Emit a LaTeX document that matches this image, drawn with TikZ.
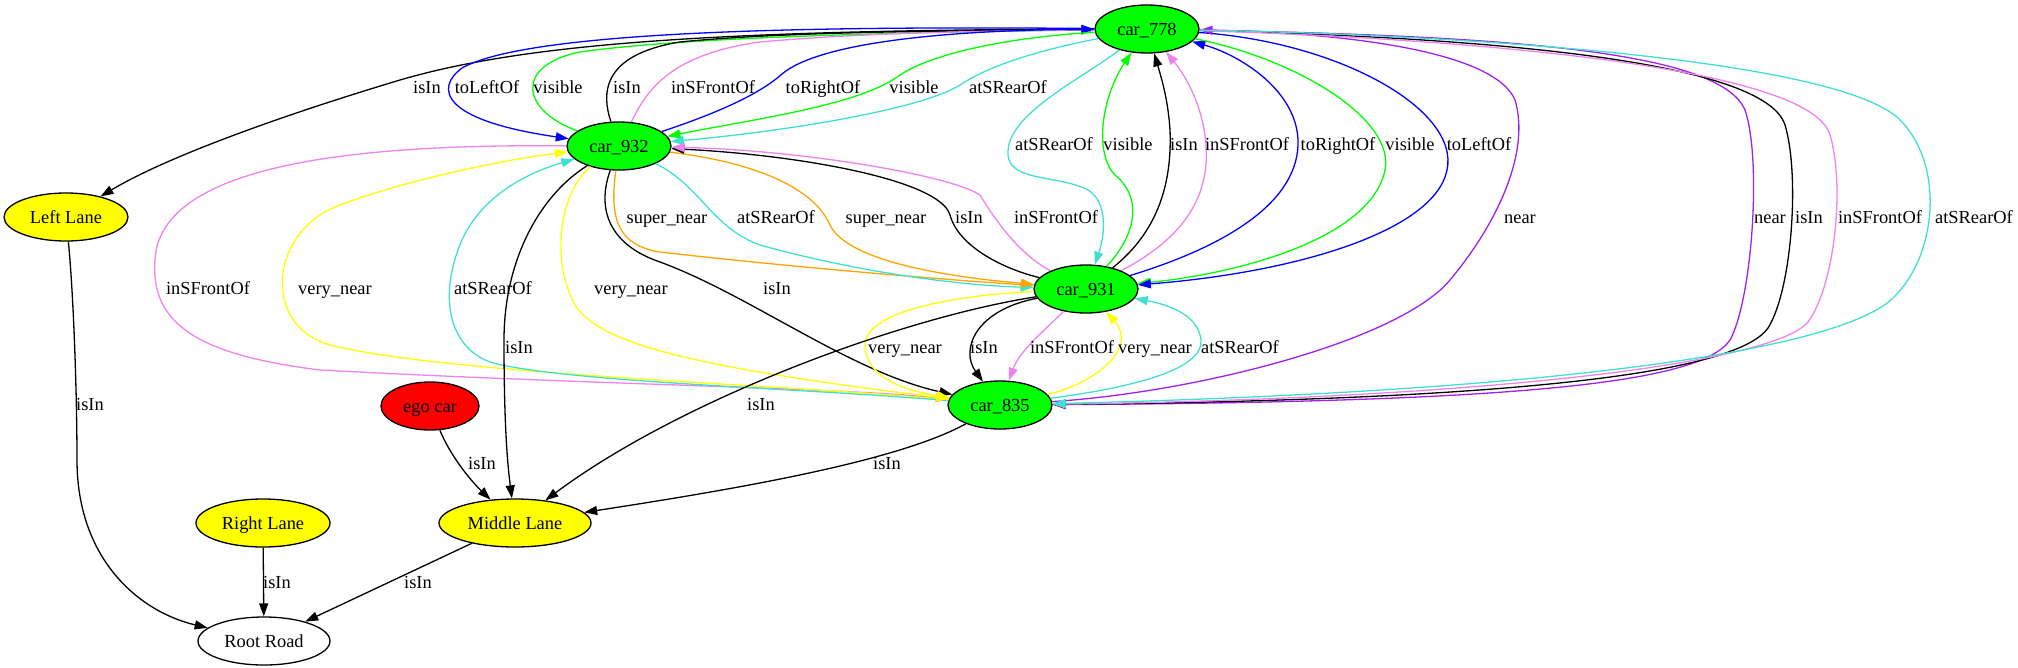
\documentclass[tikz,border=0pt]{standalone}
\usepackage{fontspec}
\setmainfont{Liberation Serif}
\usetikzlibrary{arrows.meta,shapes.geometric}
\definecolor{gvgreen}{HTML}{00FF00}
\definecolor{gvyellow}{HTML}{FFFF00}
\definecolor{gvred}{HTML}{FF0000}
\definecolor{gvblue}{HTML}{0000FF}
\definecolor{gvviolet}{HTML}{EE82EE}
\definecolor{gvturq}{HTML}{40E0D0}
\definecolor{gvorange}{HTML}{FFA500}
\definecolor{gvpurple}{HTML}{A020F0}
\newcommand\gvfont{\fontsize{18.4}{22}\selectfont}
\tikzset{
  gvnode/.style={ellipse, draw=black, line width=1.3pt, inner sep=0pt, font=\gvfont,
    text height=16.4pt, text depth=4pt, minimum height=48pt},
  carnode/.style={gvnode, fill=gvgreen, minimum width=104pt},
  lanenode/.style={gvnode, fill=gvyellow},
  lbl/.style={font=\gvfont, inner sep=0pt, text height=16.4pt, text depth=4pt},
  edge/.style={line width=1.3pt, -{Triangle[length=13pt,width=9pt]}}
}
\begin{document}
\begin{tikzpicture}[x=1pt,y=-1pt]
\useasboundingbox (0,0) rectangle (2018,667);
% nodes
\node[carnode] (car778) at (1147,29) {car\_778};
\node[carnode] (car932) at (619,146) {car\_932};
\node[lanenode, minimum width=124pt] (left) at (66,217) {Left Lane};
\node[carnode] (car931) at (1086,289) {car\_931};
\node[carnode] (car835) at (1000,405) {car\_835};
\node[gvnode, fill=gvred, minimum width=98pt] (ego) at (430,406) {ego car};
\node[lanenode, minimum width=134pt] (right) at (263,523) {Right Lane};
\node[lanenode, minimum width=152pt] (middle) at (515,523) {Middle Lane};
\node[gvnode, fill=white, minimum width=132pt] (root) at (264,641) {Root Road};

% 778 <-> 932 group and Left Lane
\draw[edge] (car778) .. controls (700,30) and (520,45) .. (400,80) .. controls (290,113) and (170,155) .. (left);
\draw[edge, gvblue] (car778) .. controls (820,26) and (530,30) .. (462,68) .. controls (435,88) and (440,120) .. (car932);
\draw[edge, gvgreen] (car932) .. controls (520,110) and (515,65) .. (580,52) .. controls (700,35) and (950,32) .. (car778);
\draw[edge] (car932) .. controls (602,95) and (600,55) .. (680,42) .. controls (800,30) and (1000,31) .. (car778);
\draw[edge, gvviolet] (car932) .. controls (645,95) and (665,55) .. (760,42) .. controls (870,32) and (1000,31) .. (car778);
\draw[edge, gvblue] (car932) .. controls (705,117) and (755,98) .. (782,74) .. controls (820,42) and (950,30) .. (car778);
\draw[edge, gvgreen] (car778) .. controls (1000,38) and (930,55) .. (900,75) .. controls (860,105) and (760,118) .. (car932);
\draw[edge, gvturq] (car778) .. controls (1040,50) and (990,65) .. (960,85) .. controls (920,110) and (780,132) .. (car932);

% 932 <-> 835 left loops
\draw[edge, gvviolet] (car932) .. controls (420,145) and (160,150) .. (155,260) .. controls (150,325) and (200,355) .. (320,370) .. controls (600,385) and (850,388) .. (car835);
\draw[edge, gvyellow] (car835) .. controls (800,385) and (450,375) .. (330,345) .. controls (260,325) and (270,230) .. (340,205) .. controls (400,182) and (500,160) .. (car932);
\draw[edge, gvturq] (car835) .. controls (800,388) and (560,382) .. (490,362) .. controls (445,345) and (440,290) .. (462,240) .. controls (480,200) and (520,175) .. (car932);
\draw[edge] (car932) .. controls (540,195) and (504,260) .. (504,340) .. controls (504,420) and (507,460) .. (middle);
\draw[edge, gvyellow] (car932) .. controls (560,190) and (550,260) .. (575,305) .. controls (600,345) and (700,368) .. (car835);
\draw[edge] (car932) .. controls (596,210) and (610,245) .. (660,262) .. controls (750,295) and (850,372) .. (car835);

% 932 <-> 931
\draw[edge, gvorange] (car932) .. controls (610,215) and (615,245) .. (660,252) .. controls (800,268) and (950,280) .. (car931);
\draw[edge, gvturq] (car932) .. controls (700,185) and (712,228) .. (760,245) .. controls (850,270) and (950,285) .. (car931);
\draw[edge, gvorange] (car932) .. controls (760,163) and (815,190) .. (830,225) .. controls (848,262) and (950,277) .. (car931);
\draw[edge] (car931) .. controls (1000,268) and (958,245) .. (950,215) .. controls (940,180) and (800,155) .. (car932);
\draw[edge, gvviolet] (car931) .. controls (1020,255) and (995,220) .. (980,195) .. controls (950,175) and (800,150) .. (car932);

% 778 <-> 931
\draw[edge, gvturq] (car778) .. controls (1080,80) and (1005,115) .. (1008,155) .. controls (1010,182) and (1060,175) .. (1088,190) .. controls (1108,202) and (1105,235) .. (car931);
\draw[edge, gvgreen] (car931) .. controls (1140,230) and (1140,195) .. (1115,175) .. controls (1095,155) and (1100,100) .. (car778);
\draw[edge] (car931) .. controls (1160,230) and (1172,180) .. (1170,130) .. controls (1168,100) and (1162,80) .. (car778);
\draw[edge, gvviolet] (car931) .. controls (1180,240) and (1210,200) .. (1206,145) .. controls (1203,105) and (1185,75) .. (car778);
\draw[edge, gvblue] (car931) .. controls (1230,245) and (1300,200) .. (1298,140) .. controls (1296,90) and (1240,55) .. (car778);
\draw[edge, gvgreen] (car778) .. controls (1300,60) and (1395,120) .. (1385,170) .. controls (1372,235) and (1250,272) .. (car931);
\draw[edge, gvblue] (car778) .. controls (1340,42) and (1460,110) .. (1447,170) .. controls (1435,230) and (1300,272) .. (car931);

% 778 <-> 835
\draw[edge, gvpurple] (car835) .. controls (1200,392) and (1400,340) .. (1450,280) .. controls (1500,220) and (1530,150) .. (1515,100) .. controls (1495,52) and (1350,33) .. (car778);
\draw[edge, gvpurple] (car778) .. controls (1500,36) and (1720,50) .. (1745,110) .. controls (1762,160) and (1752,300) .. (1730,340) .. controls (1700,385) and (1500,402) .. (car835);
\draw[edge] (car778) .. controls (1500,38) and (1765,62) .. (1785,125) .. controls (1800,175) and (1792,290) .. (1768,328) .. controls (1735,375) and (1500,400) .. (car835);
\draw[edge, gvviolet] (car778) .. controls (1500,40) and (1812,70) .. (1830,135) .. controls (1845,185) and (1835,285) .. (1808,322) .. controls (1775,362) and (1500,398) .. (car835);
\draw[edge, gvturq] (car778) .. controls (1500,36) and (1835,62) .. (1898,118) .. controls (1945,162) and (1938,255) .. (1893,298) .. controls (1845,345) and (1600,390) .. (car835);

% 931 <-> 835
\draw[edge] (car931) .. controls (975,310) and (960,350) .. (car835);
\draw[edge, gvviolet] (car931) .. controls (1045,330) and (1020,350) .. (car835);
\draw[edge, gvyellow] (car835) .. controls (1090,385) and (1140,350) .. (car931);
\draw[edge, gvturq] (car835) .. controls (1150,385) and (1210,365) .. (1200,335) .. controls (1195,315) and (1170,305) .. (car931);
\draw[edge, gvyellow] (car931) .. controls (960,295) and (865,310) .. (865,345) .. controls (865,375) and (900,390) .. (car835);

% to lanes / road
\draw[edge] (car931) .. controls (900,318) and (680,400) .. (middle);
\draw[edge] (car835) .. controls (900,460) and (750,487) .. (middle);
\draw[edge] (ego) .. controls (450,455) and (470,480) .. (middle);
\draw[edge] (middle) -- (root);
\draw[edge] (right) -- (root);
\draw[edge] (left) .. controls (74,300) and (77,400) .. (77,460) .. controls (77,560) and (140,612) .. (root);

% labels
\node[lbl] (l01) at (427,87) {isIn};
\node[lbl] (l02) at (487,87) {toLeftOf};
\node[lbl] (l03) at (558,87) {visible};
\node[lbl] (l04) at (627,87) {isIn};
\node[lbl] (l05) at (713,87) {inSFrontOf};
\node[lbl] (l06) at (823,87) {toRightOf};
\node[lbl] (l07) at (914,87) {visible};
\node[lbl] (l08) at (1008,87) {atSRearOf};
\node[lbl] (l09) at (1054,144) {atSRearOf};
\node[lbl] (l10) at (1128,144) {visible};
\node[lbl] (l11) at (1184,144) {isIn};
\node[lbl] (l12) at (1247,144) {inSFrontOf};
\node[lbl] (l13) at (1338,144) {toRightOf};
\node[lbl] (l14) at (1410,144) {visible};
\node[lbl] (l15) at (1479,144) {toLeftOf};
\node[lbl] (l16) at (667,217) {super\_near};
\node[lbl] (l17) at (776,217) {atSRearOf};
\node[lbl] (l18) at (886,217) {super\_near};
\node[lbl] (l19) at (969,217) {isIn};
\node[lbl] (l20) at (1056,217) {inSFrontOf};
\node[lbl] (l21) at (1520,217) {near};
\node[lbl] (l22) at (1770,217) {near};
\node[lbl] (l23) at (1809,217) {isIn};
\node[lbl] (l24) at (1880,217) {inSFrontOf};
\node[lbl] (l25) at (1974,217) {atSRearOf};
\node[lbl] (l26) at (208,288) {inSFrontOf};
\node[lbl] (l27) at (335,288) {very\_near};
\node[lbl] (l28) at (493,288) {atSRearOf};
\node[lbl] (l29) at (631,288) {very\_near};
\node[lbl] (l30) at (777,288) {isIn};
\node[lbl] (l31) at (519,347) {isIn};
\node[lbl] (l32) at (905,347) {very\_near};
\node[lbl] (l33) at (984,347) {isIn};
\node[lbl] (l34) at (1072,347) {inSFrontOf};
\node[lbl] (l35) at (1155,347) {very\_near};
\node[lbl] (l36) at (1240,347) {atSRearOf};
\node[lbl] (l37) at (90,404) {isIn};
\node[lbl] (l38) at (761,404) {isIn};
\node[lbl] (l39) at (482,463) {isIn};
\node[lbl] (l40) at (887,463) {isIn};
\node[lbl] (l41) at (277,582) {isIn};
\node[lbl] (l42) at (418,582) {isIn};
\end{tikzpicture}
\end{document}
